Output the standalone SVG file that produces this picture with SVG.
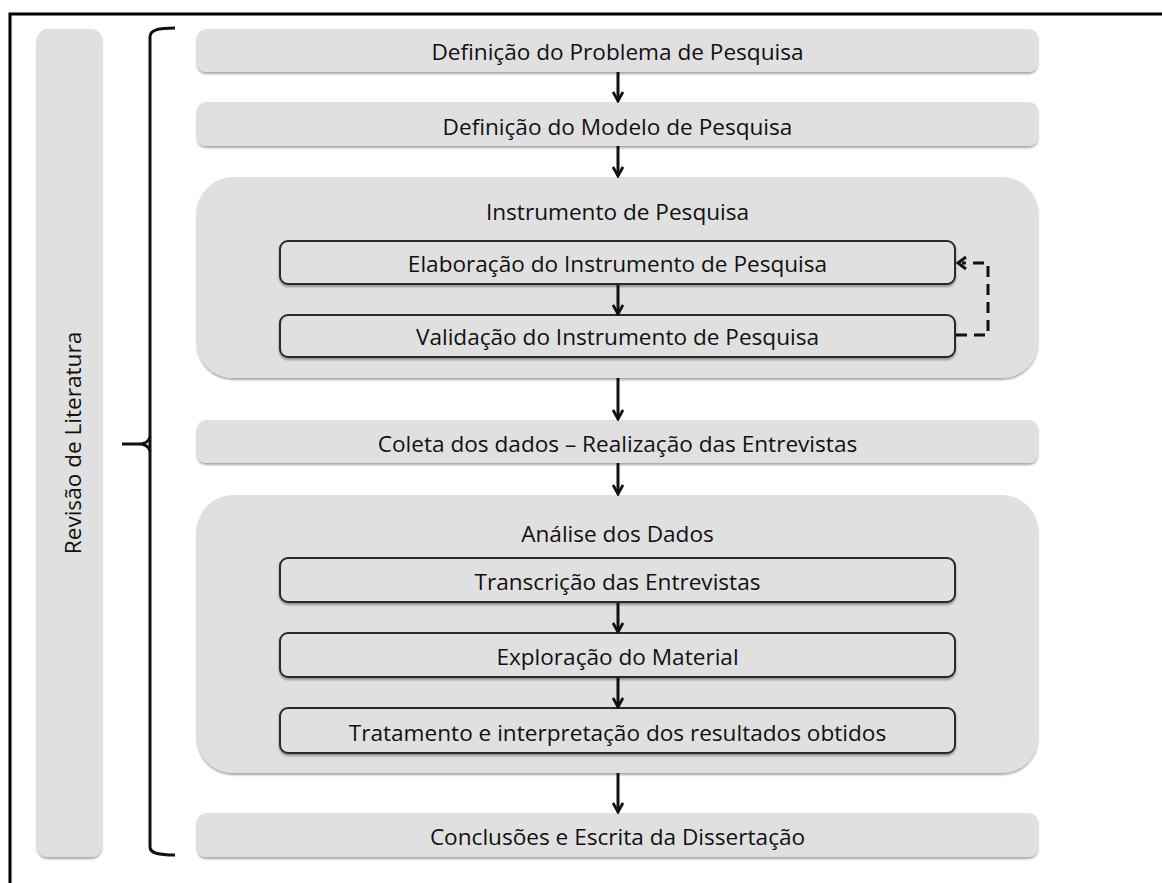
<svg xmlns="http://www.w3.org/2000/svg" width="1162" height="883" viewBox="0 0 1162 883">
<defs>
<filter id="sh" x="-5%" y="-20%" width="110%" height="150%">
<feDropShadow dx="0" dy="2" stdDeviation="1.2" flood-color="#000" flood-opacity="0.35"/>
</filter>
<marker id="ah" viewBox="0 0 12 12" refX="10" refY="6" markerWidth="12" markerHeight="12" markerUnits="userSpaceOnUse" orient="auto">
<path d="M1,1 L10,6 L1,11" fill="none" stroke="#111" stroke-width="2.8"/>
</marker>
</defs>
<style>
.bx{fill:#e0e0e0;filter:url(#sh)}
.in{fill:#e0e0e0;stroke:#2a2a2a;stroke-width:2;filter:url(#sh)}
.t{font-family:"Open Sans",Lato,sans-serif;font-size:22.6px;fill:#111;text-anchor:middle}
.ar{stroke:#111;stroke-width:3;fill:none;marker-end:url(#ah)}
.ds{stroke:#111;stroke-width:3;fill:none;stroke-dasharray:11 7}
</style>
<rect width="1162" height="883" fill="#fff"/>
<path d="M10,883 L10,14 L1162,14" fill="none" stroke="#000" stroke-width="3"/>
<g id="revisao">
<rect class="bx" x="37" y="29" width="65" height="828" rx="11"/>
<text class="t" transform="translate(81,443) rotate(-90)">Revisão de Literatura</text>
</g>
<g id="bracket">
<path d="M175,28 C158,28 150,30 150,37 L150,847 C150,853 158,855 175,855" fill="none" stroke="#111" stroke-width="3"/>
<path d="M122,444 L138,444 C145,444 149,441 150,437 M138,444 C145,444 149,447 150,451" fill="none" stroke="#111" stroke-width="3"/>
</g>
<g id="problema">
<rect class="bx" x="197" y="29" width="841" height="43" rx="9"/>
<text class="t" x="617.5" y="60">Definição do Problema de Pesquisa</text>
</g>
<g id="modelo">
<rect class="bx" x="197" y="102" width="841" height="44" rx="9"/>
<text class="t" x="617.5" y="135">Definição do Modelo de Pesquisa</text>
</g>
<g id="instrumento">
<rect class="bx" x="197" y="177" width="841" height="201" rx="36"/>
<text class="t" x="617.5" y="220">Instrumento de Pesquisa</text>
</g>
<g id="elaboracao">
<rect class="in" x="280" y="241" width="675" height="43" rx="8"/>
<text class="t" x="617.5" y="272">Elaboração do Instrumento de Pesquisa</text>
</g>
<g id="validacao">
<rect class="in" x="280" y="315" width="675" height="42" rx="8"/>
<text class="t" x="617.5" y="345">Validação do Instrumento de Pesquisa</text>
</g>
<g id="coleta">
<rect class="bx" x="197" y="420" width="841" height="43" rx="9"/>
<text class="t" x="617.5" y="452">Coleta dos dados – Realização das Entrevistas</text>
</g>
<g id="analise">
<rect class="bx" x="197" y="495" width="841" height="278" rx="36"/>
<text class="t" x="617.5" y="542">Análise dos Dados</text>
</g>
<g id="transcricao">
<rect class="in" x="280" y="558" width="675" height="44" rx="8"/>
<text class="t" x="617.5" y="590">Transcrição das Entrevistas</text>
</g>
<g id="exploracao">
<rect class="in" x="280" y="633" width="675" height="44" rx="8"/>
<text class="t" x="617.5" y="665">Exploração do Material</text>
</g>
<g id="tratamento">
<rect class="in" x="280" y="708" width="675" height="45" rx="8"/>
<text class="t" x="617.5" y="741">Tratamento e interpretação dos resultados obtidos</text>
</g>
<g id="conclusoes">
<rect class="bx" x="197" y="813" width="841" height="44" rx="9"/>
<text class="t" x="617.5" y="845">Conclusões e Escrita da Dissertação</text>
</g>
<g id="connectors">
<line class="ar" x1="618" y1="72" x2="618" y2="101"/>
<line class="ar" x1="618" y1="146" x2="618" y2="176"/>
<line class="ar" x1="618" y1="285" x2="618" y2="314"/>
<line class="ar" x1="618" y1="378" x2="618" y2="419"/>
<line class="ar" x1="618" y1="463" x2="618" y2="494"/>
<line class="ar" x1="618" y1="603" x2="618" y2="632"/>
<line class="ar" x1="618" y1="678" x2="618" y2="707"/>
<line class="ar" x1="618" y1="773" x2="618" y2="812"/>
<path class="ds" d="M956,335 L988,335 L988,263 L962,263"/>
<path d="M966,257 L958,263 L966,269" fill="none" stroke="#111" stroke-width="3"/>
</g>
</svg>
